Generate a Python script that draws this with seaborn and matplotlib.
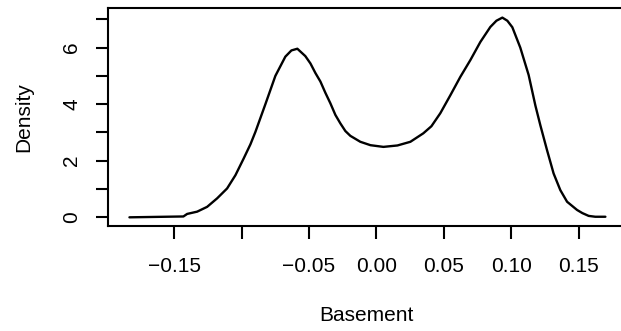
import matplotlib
matplotlib.use("Agg")
import matplotlib.pyplot as plt
import seaborn as sns
import pandas as pd

# Density curve (x = Basement, y = Density)
basement = [-0.1831, -0.1431, -0.1403, -0.1329, -0.1255, -0.1181, -0.1107,
            -0.1045, -0.0984, -0.0934, -0.0897, -0.0823, -0.0749, -0.0675,
            -0.0630, -0.0586, -0.0527, -0.0489, -0.0452, -0.0415, -0.0378,
            -0.0341, -0.0304, -0.0267, -0.0230, -0.0193, -0.0119, -0.0044,
            0.0052, 0.0156, 0.0252, 0.0348, 0.0408, 0.0474, 0.0549, 0.0623,
            0.0697, 0.0771, 0.0845, 0.0890, 0.0934, 0.0971, 0.1008, 0.1067,
            0.1129, 0.1179, 0.1216, 0.1265, 0.1314, 0.1364, 0.1414, 0.1488,
            0.1527, 0.1574, 0.1623, 0.1698]
density = [0.00, 0.03, 0.12, 0.20, 0.37, 0.67, 1.02,
           1.49, 2.08, 2.58, 3.02, 4.00, 5.00, 5.68,
           5.90, 5.96, 5.70, 5.44, 5.10, 4.80, 4.40,
           4.03, 3.62, 3.32, 3.05, 2.88, 2.67, 2.55,
           2.49, 2.54, 2.67, 2.97, 3.22, 3.68, 4.32, 4.97,
           5.56, 6.20, 6.73, 6.95, 7.06, 6.95, 6.72, 6.00,
           5.03, 3.95, 3.25, 2.38, 1.55, 0.96, 0.55, 0.26,
           0.15, 0.05, 0.02, 0.02]

x_ticks = [-0.15, -0.10, -0.05, 0.00, 0.05, 0.10, 0.15]
x_labels = ["\u22120.15", "", "\u22120.05", "0.00", "0.05", "0.10", "0.15"]
y_ticks = [0, 1, 2, 3, 4, 5, 6, 7]
y_labels = ["0", "", "2", "", "4", "", "6", ""]

sns.set_style("white")
plt.rcParams["font.family"] = ["Liberation Sans", "DejaVu Sans"]

df = pd.DataFrame({"Basement": basement, "Density": density})

fig = plt.figure(figsize=(6.21, 3.31), dpi=100)
ax = fig.add_axes([108 / 621, 105 / 331, 516 / 621, 218 / 331])
sns.lineplot(data=df, x="Basement", y="Density", ax=ax, color="black",
             linewidth=1.7, sort=False, estimator=None)

ax.set_xlim(-0.199, 0.1836)
ax.set_ylim(-0.307, 7.40)
ax.set_xticks(x_ticks)
ax.set_xticklabels(x_labels)
ax.set_yticks(y_ticks)
ax.set_yticklabels(y_labels, rotation=90, va="center")

for s in ax.spines.values():
    s.set_visible(True)
    s.set_color("black")
    s.set_linewidth(1.5)

ax.tick_params(axis="x", bottom=True, direction="out", length=9.4, width=1.5,
               pad=12.6, labelsize=15, colors="black")
ax.tick_params(axis="y", left=True, direction="out", length=8.4, width=1.5,
               pad=11, labelsize=15, colors="black")
ax.set_xlabel("Basement", fontsize=15, labelpad=22, color="black")
ax.set_ylabel("Density", fontsize=15, labelpad=21, color="black")

fig.savefig("out.png", dpi=100)
